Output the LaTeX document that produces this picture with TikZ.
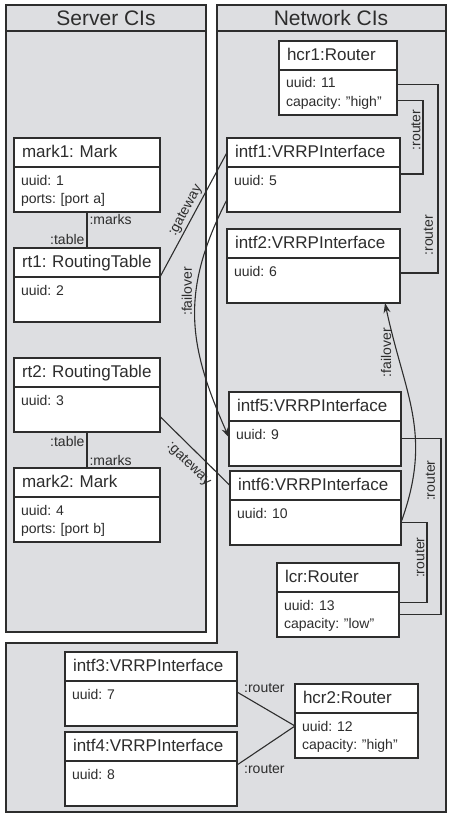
\documentclass[tikz,border=0pt]{standalone}
\usepackage{fontspec}
\setmainfont{Liberation Sans}
\usepackage{xcolor}
\usetikzlibrary{arrows.meta,calc}

\frenchspacing
\hyphenpenalty=10000

\definecolor{panelgray}{RGB}{221,222,225}
\definecolor{inkgray}{RGB}{45,45,45}

\tikzset{
	objhead/.style={
			draw=inkgray, fill=white, line width=1.4pt, outer sep=0pt,
			inner xsep=8pt, inner ysep=6pt, align=left,
			text height=13pt, text depth=4pt,
			font=\fontsize{17}{20}\selectfont
		},
	objbody/.style={
			draw=inkgray, fill=white, line width=1.4pt, outer sep=0pt,
			inner xsep=7pt, inner ysep=3pt, align=left,
			text height=15pt, text depth=24pt,
			font=\fontsize{14}{18}\selectfont
		},
	link/.style={draw=inkgray, line width=1.1pt},
	failarrow/.style={link, -{Stealth[length=10pt, width=7pt]}},
	role/.style={font=\fontsize{14}{16}\selectfont, text=inkgray, inner sep=2pt},
	panel/.style={draw=inkgray, fill=panelgray, line width=1.6pt},
	paneltitle/.style={font=\fontsize{21}{24}\selectfont, text=inkgray}
}

% object box: name, top left corner, width, title, attributes
\newcommand{\umlobj}[5]{%
	\node[objhead, text width=#3pt-16pt, anchor=north west] (#1) at (#2) {#4};
	\node[objbody, text width=#3pt-14pt, anchor=north west] (#1a) at (#1.south west) {#5};
}

\begin{document}
\begin{tikzpicture}[x=1pt, y=-1pt, text=inkgray]
	\useasboundingbox (0,0) rectangle (448,816);

	% Panels
	\draw[panel] (6,5) rectangle (206,632);
	\draw[panel] (217,5) -- (446,5) -- (446,812) -- (6,812) -- (6,643) -- (217,643) -- cycle;
	\draw[inkgray, line width=1.6pt] (6,31) -- (206,31);
	\draw[inkgray, line width=1.6pt] (217,31) -- (446,31);
	\node[paneltitle] (server) at (106,18) {Server CIs};
	\node[paneltitle] (network) at (331,18) {Network CIs};

	% Server CIs
	\umlobj{mark1}{14,138}{146}{mark1: Mark}{uuid: 1\\ports: [port a]}
	\umlobj{rt1}{14,248}{146}{rt1: RoutingTable}{uuid: 2}
	\umlobj{rt2}{14,358}{146}{rt2: RoutingTable}{uuid: 3}
	\umlobj{mark2}{14,468}{146}{mark2: Mark}{uuid: 4\\ports: [port b]}

	% Network CIs
	\umlobj{hcr1}{279,41}{118}{hcr1:Router}{uuid: 11\\capacity: "high"}
	\umlobj{intf1}{227,138}{173}{intf1:VRRPInterface}{uuid: 5}
	\umlobj{intf2}{227,229}{173}{intf2:VRRPInterface}{uuid: 6}
	\umlobj{intf5}{229,392}{172}{intf5:VRRPInterface}{uuid: 9}
	\umlobj{intf6}{230,471}{171}{intf6:VRRPInterface}{uuid: 10}
	\umlobj{lcr}{277,563}{122}{lcr:Router}{uuid: 13\\capacity: "low"}
	\umlobj{intf3}{65,652}{172}{intf3:VRRPInterface}{uuid: 7}
	\umlobj{intf4}{65,732}{172}{intf4:VRRPInterface}{uuid: 8}
	\umlobj{hcr2}{295,684}{123}{hcr2:Router}{uuid: 12\\capacity: "high"}

	% Marks and tables
	\draw[link] (mark1a.south) -- (rt1.north)
		node[role, pos=0.22, right] {:marks}
		node[role, pos=0.75, left] {:table};
	\draw[link] (rt2a.south) -- (mark2.north)
		node[role, pos=0.25, left] {:table}
		node[role, pos=0.78, right] {:marks};

	% Gateways
	\draw[link] (rt1a.north east) -- (intf1.west)
		node[role, midway, sloped, above] {:gateway};
	\draw[link] ([yshift=-7pt]rt2a.east) -- (intf6.west)
		node[role, pos=0.55, sloped, below, outer sep=6pt] {:gateway};

	% Failover
	\draw[failarrow] ([yshift=-10pt]intf1a.west) to[out=243, in=114, looseness=1.1]
		node[role, pos=0.38, rotate=90, anchor=south, outer sep=2pt] {:failover}
		([yshift=6pt]intf5a.west);
	\draw[failarrow] (intf6a.east) to[out=70, in=-78, looseness=1.1]
		node[role, pos=0.8, rotate=90, anchor=south, outer sep=4pt] {:failover}
		([xshift=-15pt]intf2a.south east);

	% Routers
	\draw[link] ([yshift=-8pt]hcr1a.east) -- ++(26,0) |- ([yshift=-7pt]intf1a.north east)
		node[role, pos=0.2, rotate=90, anchor=south] {:router};
	\draw[link] ([yshift=8pt]hcr1a.east) -- ++(41,0) |- ([yshift=-15pt]intf2a.north east)
		node[role, pos=0.4, rotate=90, anchor=south, outer sep=3pt] {:router};
	\draw[link] ([yshift=5pt]intf5a.east) -- ++(40,0) |- (lcra.east)
		node[role, pos=0.12, rotate=90, anchor=south, outer sep=4pt] {:router};
	\draw[link] (intf6a.east) -- ++(26,0) |- ([yshift=12pt]lcra.east)
		node[role, pos=0.22, rotate=90, anchor=south] {:router};

	\coordinate (hcr2in) at ([yshift=-13pt]hcr2a.north west);
	\draw[link] ([yshift=-11pt]intf3a.north east) -- (hcr2in)
		node[role, pos=0.08, above right] {:router};
	\draw[link] ([yshift=-4pt]intf4a.north east) -- (hcr2in)
		node[role, pos=0.08, below right] {:router};
\end{tikzpicture}
\end{document}
